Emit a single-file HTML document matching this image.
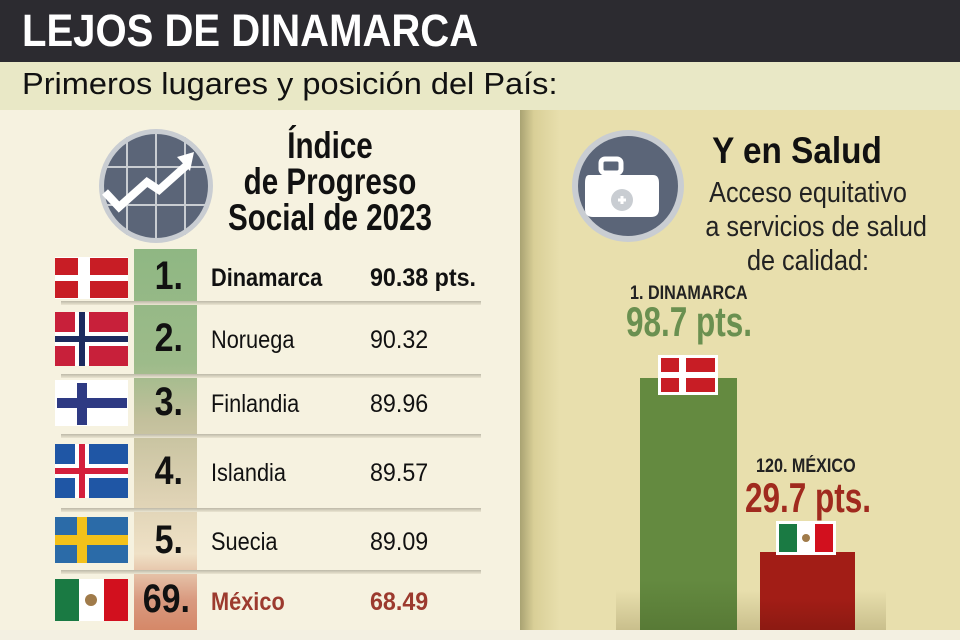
<!DOCTYPE html>
<html><head><meta charset="utf-8"><style>
*{margin:0;padding:0}
body{width:960px;height:640px;position:relative;overflow:hidden;font-family:"Liberation Sans",sans-serif;background:#f6f2e0}
.a{position:absolute;white-space:nowrap;transform-origin:0 0}
.b{font-weight:bold}
.flag{position:absolute;width:73px;height:42px}
.line{position:absolute;left:61px;width:420px;height:4px;background:linear-gradient(#bdb9a8,#ebe6d2)}
.rk{position:absolute;width:70px;text-align:right;left:113px;font-size:40px;font-weight:bold;color:#111;transform:scaleX(0.85);transform-origin:100% 0}
.nm{position:absolute;left:211px;font-size:25px;color:#111;transform:scaleX(0.87);transform-origin:0 0;white-space:nowrap}
.vl{position:absolute;left:370px;font-size:25px;color:#111;transform:scaleX(0.93);transform-origin:0 0;white-space:nowrap}
</style></head><body>
<div class="a" style="left:0;top:0;width:960px;height:62px;background:#2c2b30"></div>
<div class="a b" style="left:22px;top:5px;font-size:45px;color:#fff;transform:scaleX(0.89)">LEJOS DE DINAMARCA</div>
<div class="a" style="left:0;top:62px;width:960px;height:48px;background:#e9e8c6"></div>
<div class="a" style="left:22px;top:66px;font-size:31px;color:#111;transform:scaleX(1.05)">Primeros lugares y posición del País:</div>
<div class="a" style="left:520px;top:110px;width:440px;height:530px;background:linear-gradient(90deg,#a9a272 0,#d9cf97 14px,#e8dfad 40px,#e8dfad)"></div>
<div class="a" style="left:0;top:630px;width:960px;height:10px;background:#f3f0e2"></div>

<svg class="a" style="left:97px;top:127px" width="118" height="118" viewBox="0 0 118 118">
<circle cx="59" cy="59" r="57" fill="#c9cdd2"/><circle cx="59" cy="59" r="52" fill="#5b6578"/>
<g stroke="#c9cdd2" stroke-width="2"><line x1="30" y1="10" x2="30" y2="108"/><line x1="59" y1="7" x2="59" y2="111"/><line x1="88" y1="10" x2="88" y2="108"/><line x1="7" y1="40" x2="111" y2="40"/><line x1="7" y1="78" x2="111" y2="78"/></g>
<polyline points="8,65 22,80 50,55 62,63 90,38" fill="none" stroke="#fff" stroke-width="8"/>
<polygon points="80,30 97,25 93,44" fill="#fff"/></svg>
<div class="a b" style="left:200px;top:128px;width:260px;text-align:center;font-size:37px;line-height:36px;color:#111;transform:scaleX(0.8);transform-origin:130px 0">Índice<br>de Progreso<br>Social de 2023</div>

<div class="a" style="left:134px;top:249px;width:63px;height:381px;background:linear-gradient(#8fb783 0%,#9dbb8a 30%,#c3c09c 45%,#ded2b4 65%,#efe1c6 80%,#d99a80 92%,#d58868 100%)"></div>
<div class="line" style="top:301px"></div><div class="line" style="top:374px"></div><div class="line" style="top:434px"></div><div class="line" style="top:508px"></div><div class="line" style="top:570px"></div>

<svg class="flag" style="left:55px;top:257px" viewBox="0 0 73 42"><rect width="73" height="42" fill="#fff"/><rect x="0" y="1" width="23" height="17" fill="#c81d25"/><rect x="35" y="1" width="38" height="17" fill="#c81d25"/><rect x="0" y="24" width="23" height="17" fill="#c81d25"/><rect x="35" y="24" width="38" height="17" fill="#c81d25"/></svg>
<svg class="flag" style="left:55px;top:312px;height:54px" viewBox="0 0 73 54"><rect width="73" height="54" fill="#c8203a"/><rect x="20" width="14" height="54" fill="#fff"/><rect y="20" width="73" height="14" fill="#fff"/><rect x="24" width="6" height="54" fill="#1c2a5e"/><rect y="24" width="73" height="6" fill="#1c2a5e"/></svg>
<svg class="flag" style="left:55px;top:380px;height:46px" viewBox="0 0 73 46"><rect width="73" height="46" fill="#fff"/><rect x="22" y="3" width="10" height="42" fill="#2e3a83"/><rect x="2" y="18" width="70" height="10" fill="#2e3a83"/></svg>
<svg class="flag" style="left:55px;top:444px;height:54px" viewBox="0 0 73 54"><rect width="73" height="54" fill="#1f56a5"/><rect x="20" width="14" height="54" fill="#fff"/><rect y="20" width="73" height="14" fill="#fff"/><rect x="24" width="6" height="54" fill="#d41f3c"/><rect y="24" width="73" height="6" fill="#d41f3c"/></svg>
<svg class="flag" style="left:55px;top:517px;height:46px" viewBox="0 0 73 46"><rect width="73" height="46" fill="#2b6ba8"/><rect x="22" width="10" height="46" fill="#f3c11a"/><rect y="18" width="73" height="10" fill="#f3c11a"/></svg>
<svg class="flag" style="left:55px;top:579px" viewBox="0 0 73 42"><rect width="73" height="42" fill="#fff"/><rect width="24" height="42" fill="#1a7a43"/><rect x="49" width="24" height="42" fill="#d2101e"/><circle cx="36" cy="21" r="6" fill="#a07b4a"/></svg>

<div class="rk" style="top:254px">1.</div><div class="nm b" style="top:264px">Dinamarca</div><div class="vl b" style="top:264px">90.38 pts.</div>
<div class="rk" style="top:316px">2.</div><div class="nm" style="top:326px">Noruega</div><div class="vl" style="top:326px">90.32</div>
<div class="rk" style="top:380px">3.</div><div class="nm" style="top:390px">Finlandia</div><div class="vl" style="top:390px">89.96</div>
<div class="rk" style="top:449px">4.</div><div class="nm" style="top:459px">Islandia</div><div class="vl" style="top:459px">89.57</div>
<div class="rk" style="top:518px">5.</div><div class="nm" style="top:528px">Suecia</div><div class="vl" style="top:528px">89.09</div>
<div class="rk" style="top:577px;left:120px">69.</div><div class="nm b" style="top:588px;color:#9c3a2e">México</div><div class="vl b" style="top:588px;color:#9c3a2e">68.49</div>

<svg class="a" style="left:571px;top:129px" width="114" height="114" viewBox="0 0 114 114">
<circle cx="57" cy="57" r="56" fill="#c9cdd2"/><circle cx="57" cy="57" r="50" fill="#5b6578"/>
<rect x="30" y="30" width="20" height="14" rx="4" fill="none" stroke="#fff" stroke-width="5"/>
<path d="M18 46 H82 Q88 46 88 54 V80 Q88 88 80 88 H22 Q14 88 14 80 V54 Q14 46 18 46Z" fill="#fff"/>
<circle cx="51" cy="71" r="11" fill="#c9cdd2"/><path d="M47 71h8M51 67v8" stroke="#fff" stroke-width="3"/></svg>
<div class="a b" style="left:680px;top:130px;width:234px;text-align:center;font-size:37px;color:#111;transform:scaleX(0.9);transform-origin:117px 0">Y en Salud</div>
<div class="a" style="left:690px;top:176px;width:236px;text-align:center;font-size:29px;line-height:34px;color:#222;transform:scaleX(0.87);transform-origin:118px 0">Acceso equitativo<br>a servicios de salud<br>de calidad:</div>
<div class="a b" style="left:630px;top:283px;font-size:19px;color:#222;transform:scaleX(0.85)">1. DINAMARCA</div>
<div class="a b" style="left:626px;top:298px;font-size:42px;color:#6a9050;transform:scaleX(0.75)">98.7 pts.</div>
<div class="a" style="left:616px;top:590px;width:270px;height:40px;background:linear-gradient(#e8dfad,#c9bf8c)"></div>
<div class="a" style="left:640px;top:378px;width:97px;height:252px;background:linear-gradient(#648a40 80%,#587a36)"></div>
<svg class="a" style="left:658px;top:355px" width="60" height="40" viewBox="0 0 60 40"><rect width="60" height="40" fill="#fff"/><rect x="3" y="3" width="18" height="14" fill="#c81d25"/><rect x="28" y="3" width="29" height="14" fill="#c81d25"/><rect x="3" y="23" width="18" height="14" fill="#c81d25"/><rect x="28" y="23" width="29" height="14" fill="#c81d25"/></svg>
<div class="a b" style="left:756px;top:456px;font-size:19px;color:#222;transform:scaleX(0.85)">120. MÉXICO</div>
<div class="a b" style="left:745px;top:474px;font-size:42px;color:#a02a1e;transform:scaleX(0.75)">29.7 pts.</div>
<div class="a" style="left:760px;top:552px;width:95px;height:78px;background:linear-gradient(#a21d16 60%,#8c1a12)"></div>
<svg class="a" style="left:776px;top:521px" width="60" height="34" viewBox="0 0 60 34"><rect width="60" height="34" fill="#fff"/><rect x="3" y="3" width="18" height="28" fill="#1a7a43"/><rect x="39" y="3" width="18" height="28" fill="#d2101e"/><circle cx="30" cy="17" r="4" fill="#a07b4a"/></svg>
</body></html>
